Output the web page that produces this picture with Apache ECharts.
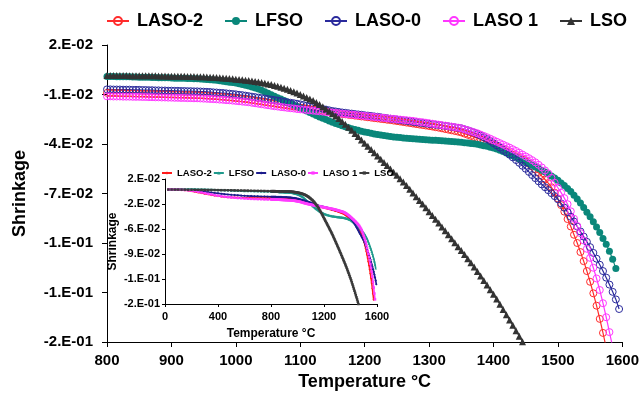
<!DOCTYPE html>
<html>
<head>
<meta charset="utf-8">
<script src="https://cdn.jsdelivr.net/npm/echarts@6/dist/echarts.min.js"></script>
<style>
html,body{margin:0;padding:0;background:#fff}
#chart{width:642px;height:396px}
</style>
</head>
<body>
<div id="chart"></div>
<script>
// temperature grid: main curves are read every 5 °C from 800 °C
var tStart = 800, tStep = 5;
// low part of the inset (25..775 °C, every 25 °C)
var lowStart = 25, lowStep = 25;

var names = ['LASO-2', 'LFSO', 'LASO-0', 'LASO 1', 'LSO'];

var laso2 = [
 -.0090,-.0090,-.0091,-.0091,-.0092,-.0092,-.0093,-.0093,-.0094,-.0094,
 -.0095,-.0095,-.0096,-.0096,-.0097,-.0097,-.0098,-.0098,-.0099,-.0099,
 -.0100,-.0100,-.0101,-.0101,-.0102,-.0102,-.0103,-.0103,-.0104,-.0105,
 -.0106,-.0107,-.0108,-.0110,-.0111,-.0113,-.0114,-.0116,-.0118,-.0120,
 -.0122,-.0124,-.0126,-.0128,-.0131,-.0134,-.0137,-.0140,-.0143,-.0146,
 -.0149,-.0152,-.0155,-.0158,-.0161,-.0164,-.0167,-.0170,-.0173,-.0176,
 -.0179,-.0182,-.0185,-.0188,-.0191,-.0194,-.0197,-.0200,-.0203,-.0206,
 -.0209,-.0212,-.0215,-.0218,-.0220,-.0223,-.0225,-.0228,-.0230,-.0233,
 -.0235,-.0238,-.0240,-.0243,-.0245,-.0248,-.0250,-.0253,-.0255,-.0258,
 -.0261,-.0264,-.0267,-.0270,-.0273,-.0276,-.0279,-.0282,-.0285,-.0288,
 -.0291,-.0294,-.0298,-.0301,-.0305,-.0309,-.0313,-.0317,-.0321,-.0325,
 -.0330,-.0337,-.0344,-.0351,-.0358,-.0365,-.0373,-.0381,-.0389,-.0397,
 -.0405,-.0415,-.0425,-.0435,-.0445,-.0455,-.0465,-.0475,-.0485,-.0495,
 -.0505,-.0520,-.0537,-.0555,-.0575,-.0595,-.0615,-.0637,-.0662,-.0695,
 -.0730,-.0770,-.0810,-.0855,-.0900,-.0950,-.1000,-.1055,-.1110,-.1170,
 -.1235,-.1305,-.1380,-.1460,-.1545,-.1635
];
var lfso = [
 .0009,.0009,.0009,.0008,.0008,.0008,.0007,.0007,.0006,.0006,
 .0005,.0005,.0004,.0004,.0003,.0003,.0002,.0002,.0001,.0001,
 .0000,-.0001,-.0001,-.0002,-.0002,-.0003,-.0003,-.0004,-.0005,-.0006,
 -.0007,-.0009,-.0010,-.0012,-.0014,-.0016,-.0019,-.0022,-.0025,-.0028,
 -.0031,-.0035,-.0039,-.0044,-.0049,-.0055,-.0061,-.0067,-.0074,-.0083,
 -.0092,-.0101,-.0110,-.0119,-.0128,-.0137,-.0146,-.0155,-.0164,-.0173,
 -.0182,-.0191,-.0200,-.0209,-.0218,-.0227,-.0236,-.0244,-.0252,-.0260,
 -.0268,-.0275,-.0282,-.0289,-.0295,-.0301,-.0307,-.0312,-.0317,-.0322,
 -.0327,-.0331,-.0335,-.0339,-.0343,-.0346,-.0349,-.0352,-.0355,-.0357,
 -.0359,-.0361,-.0363,-.0365,-.0367,-.0368,-.0370,-.0371,-.0373,-.0374,
 -.0376,-.0377,-.0378,-.0379,-.0381,-.0382,-.0383,-.0385,-.0386,-.0388,
 -.0390,-.0392,-.0394,-.0397,-.0399,-.0402,-.0406,-.0410,-.0414,-.0419,
 -.0424,-.0431,-.0438,-.0446,-.0454,-.0463,-.0471,-.0480,-.0489,-.0499,
 -.0509,-.0519,-.0529,-.0539,-.0549,-.0559,-.0570,-.0582,-.0594,-.0606,
 -.0620,-.0636,-.0652,-.0669,-.0688,-.0710,-.0733,-.0758,-.0785,-.0813,
 -.0841,-.0871,-.0903,-.0937,-.0972,-.1008,-.1050,-.1098,-.1155
];
var laso0 = [
 -.0069,-.0069,-.0070,-.0070,-.0070,-.0071,-.0071,-.0071,-.0072,-.0072,
 -.0072,-.0073,-.0073,-.0074,-.0074,-.0075,-.0075,-.0076,-.0076,-.0077,
 -.0077,-.0078,-.0078,-.0079,-.0079,-.0080,-.0080,-.0081,-.0081,-.0082,
 -.0083,-.0084,-.0085,-.0087,-.0088,-.0090,-.0091,-.0093,-.0095,-.0097,
 -.0099,-.0102,-.0104,-.0107,-.0110,-.0113,-.0116,-.0119,-.0122,-.0125,
 -.0128,-.0131,-.0134,-.0137,-.0140,-.0144,-.0147,-.0150,-.0153,-.0156,
 -.0160,-.0164,-.0168,-.0172,-.0176,-.0180,-.0184,-.0188,-.0192,-.0196,
 -.0200,-.0203,-.0206,-.0209,-.0211,-.0214,-.0216,-.0219,-.0221,-.0223,
 -.0226,-.0228,-.0230,-.0233,-.0235,-.0238,-.0241,-.0244,-.0247,-.0249,
 -.0252,-.0255,-.0258,-.0260,-.0263,-.0266,-.0268,-.0271,-.0273,-.0276,
 -.0278,-.0281,-.0283,-.0285,-.0288,-.0290,-.0293,-.0296,-.0299,-.0302,
 -.0305,-.0311,-.0317,-.0324,-.0331,-.0340,-.0349,-.0359,-.0370,-.0382,
 -.0395,-.0408,-.0422,-.0436,-.0450,-.0465,-.0481,-.0497,-.0514,-.0532,
 -.0550,-.0569,-.0588,-.0607,-.0626,-.0645,-.0662,-.0680,-.0698,-.0716,
 -.0735,-.0760,-.0786,-.0813,-.0841,-.0870,-.0900,-.0930,-.0961,-.0993,
 -.1025,-.1060,-.1095,-.1132,-.1170,-.1210,-.1252,-.1296,-.1342,-.1400
];
var laso1 = [
 -.0111,-.0111,-.0112,-.0112,-.0112,-.0113,-.0113,-.0113,-.0114,-.0114,
 -.0114,-.0115,-.0115,-.0116,-.0116,-.0117,-.0117,-.0118,-.0118,-.0119,
 -.0119,-.0120,-.0120,-.0121,-.0121,-.0122,-.0122,-.0123,-.0123,-.0124,
 -.0125,-.0126,-.0127,-.0128,-.0129,-.0131,-.0132,-.0134,-.0135,-.0137,
 -.0139,-.0141,-.0143,-.0145,-.0147,-.0150,-.0153,-.0156,-.0159,-.0162,
 -.0165,-.0168,-.0171,-.0173,-.0176,-.0178,-.0181,-.0183,-.0185,-.0188,
 -.0190,-.0192,-.0194,-.0196,-.0198,-.0200,-.0202,-.0204,-.0206,-.0208,
 -.0210,-.0212,-.0214,-.0216,-.0218,-.0220,-.0222,-.0224,-.0226,-.0228,
 -.0230,-.0232,-.0234,-.0236,-.0238,-.0240,-.0242,-.0244,-.0246,-.0248,
 -.0250,-.0252,-.0254,-.0256,-.0258,-.0260,-.0263,-.0266,-.0268,-.0271,
 -.0274,-.0277,-.0280,-.0283,-.0286,-.0289,-.0292,-.0295,-.0298,-.0301,
 -.0305,-.0311,-.0317,-.0323,-.0329,-.0335,-.0343,-.0351,-.0359,-.0368,
 -.0377,-.0386,-.0395,-.0404,-.0413,-.0422,-.0432,-.0442,-.0453,-.0464,
 -.0475,-.0486,-.0498,-.0511,-.0526,-.0542,-.0560,-.0578,-.0605,-.0635,
 -.0665,-.0695,-.0728,-.0765,-.0808,-.0853,-.0897,-.0940,-.0985,-.1035,
 -.1090,-.1150,-.1215,-.1285,-.1365,-.1450,-.1540,-.1630
];
var lso = [
 .0015,.0015,.0015,.0015,.0015,.0015,.0015,.0014,.0014,.0014,
 .0014,.0014,.0013,.0013,.0013,.0013,.0012,.0012,.0012,.0011,
 .0011,.0011,.0010,.0010,.0010,.0009,.0009,.0009,.0008,.0008,
 .0007,.0006,.0005,.0004,.0003,.0002,.0000,-.0001,-.0003,-.0005,
 -.0007,-.0009,-.0011,-.0013,-.0015,-.0018,-.0021,-.0024,-.0028,-.0032,
 -.0036,-.0040,-.0045,-.0050,-.0056,-.0062,-.0068,-.0075,-.0083,-.0091,
 -.0100,-.0109,-.0118,-.0127,-.0137,-.0149,-.0161,-.0174,-.0188,-.0202,
 -.0216,-.0231,-.0246,-.0263,-.0281,-.0299,-.0317,-.0336,-.0355,-.0375,
 -.0395,-.0414,-.0434,-.0453,-.0473,-.0492,-.0512,-.0531,-.0551,-.0571,
 -.0590,-.0610,-.0630,-.0652,-.0674,-.0697,-.0719,-.0742,-.0764,-.0787,
 -.0810,-.0833,-.0856,-.0879,-.0903,-.0926,-.0950,-.0974,-.0998,-.1022,
 -.1046,-.1070,-.1095,-.1120,-.1146,-.1173,-.1200,-.1227,-.1255,-.1283,
 -.1311,-.1340,-.1371,-.1403,-.1435,-.1467,-.1499,-.1532,-.1565,-.1598,
 -.1631,-.1665,-.1700,-.1735
];

// inset only: 25..775 °C
var laso2Low = [.0040,.0040,.0039,.0037,.0034,.0030,.0024,.0016,.0007,-.0003,-.0013,-.0023,-.0033,-.0042,-.0051,-.0059,
 -.0066,-.0072,-.0076,-.0079,-.0081,-.0083,-.0084,-.0085,-.0086,-.0087,-.0088,-.0088,-.0089,-.0089,-.0090];
var lfsoLow = [.0040,.0041,.0042,.0043,.0044,.0045,.0046,.0046,.0046,.0045,.0044,.0042,.0040,.0038,.0036,.0034,
 .0032,.0030,.0028,.0026,.0024,.0022,.0020,.0019,.0017,.0016,.0014,.0013,.0012,.0011,.0010];
var laso0Low = [.0040,.0040,.0040,.0039,.0038,.0036,.0033,.0029,.0024,.0018,.0012,.0006,.0000,-.0006,-.0012,-.0018,
 -.0024,-.0030,-.0035,-.0040,-.0044,-.0048,-.0052,-.0055,-.0058,-.0060,-.0062,-.0064,-.0066,-.0067,-.0068];
var laso1Low = [.0040,.0040,.0039,.0038,.0036,.0033,.0028,.0022,.0014,.0005,-.0005,-.0015,-.0025,-.0035,-.0045,-.0054,
 -.0062,-.0069,-.0075,-.0080,-.0085,-.0089,-.0093,-.0096,-.0099,-.0102,-.0104,-.0106,-.0108,-.0109,-.0110];
var lsoLow = [.0040,.0040,.0039,.0039,.0038,.0038,.0037,.0037,.0036,.0035,.0035,.0034,.0033,.0033,.0032,.0031,
 .0030,.0030,.0029,.0028,.0027,.0026,.0025,.0024,.0023,.0022,.0021,.0020,.0019,.0018,.0016];

var mainYLabels = ['-2.E-01', '-1.E-01', '-1.E-01', '-7.E-02', '-4.E-02', '-1.E-02', '2.E-02'];
var insetYLabels = ['-2.E-01', '-1.E-01', '-9.E-02', '-6.E-02', '-2.E-02', '2.E-02'];

var mainY = { min: -0.16, max: 0.02, step: 0.03 };
var insetY = { min: -0.17, max: 0.02, step: 0.038 };

function pairs(values, start, step) {
  return values.map(function (v, i) { return [start + i * step, v]; });
}
function full(low, high) {
  return pairs(low, lowStart, lowStep).concat(pairs(high, tStart, tStep));
}

var FONT = "'Liberation Sans', Arial, sans-serif";
var mainValues = [laso2, lfso, laso0, laso1, lso];
var lowValues = [laso2Low, lfsoLow, laso0Low, laso1Low, lsoLow];
var colors = ['#ff2b2b', '#0a877a', '#2a2a9c', '#ff36ff', '#333333'];
var insetColors = ['#ff1a1a', '#1f9a8c', '#1c1c8c', '#ff3cff', '#3a3a3a'];
var mainSymbols = [
  { symbol: 'circle', size: 7, fill: 'rgba(0,0,0,0)' },
  { symbol: 'circle', size: 7, fill: null },
  { symbol: 'circle', size: 7, fill: 'rgba(0,0,0,0)' },
  { symbol: 'circle', size: 7, fill: 'rgba(0,0,0,0)' },
  { symbol: 'triangle', size: 7, fill: null }
];
var insetSymbols = ['diamond', 'triangle', 'diamond', 'rect', 'rect'];

var series = [];
names.forEach(function (n, i) {
  var s = mainSymbols[i];
  series.push({
    name: n,
    type: 'line',
    xAxisIndex: 0,
    yAxisIndex: 0,
    data: pairs(mainValues[i], tStart, tStep),
    symbol: s.symbol,
    symbolSize: s.size,
    showAllSymbol: true,
    itemStyle: s.fill ? { color: s.fill, borderColor: colors[i], borderWidth: 1 } : { color: colors[i] },
    lineStyle: { color: colors[i], width: 1.2 },
    clip: true
  });
});
names.forEach(function (n, i) {
  series.push({
    name: n + ' ',
    type: 'line',
    xAxisIndex: 1,
    yAxisIndex: 1,
    data: full(lowValues[i], mainValues[i]),
    symbol: insetSymbols[i],
    symbolSize: 2.5,
    showAllSymbol: true,
    itemStyle: { color: insetColors[i] },
    lineStyle: { color: insetColors[i], width: 1.6 },
    clip: true
  });
});

var chart = echarts.init(document.getElementById('chart'), null, { renderer: 'canvas' });

chart.setOption({
  animation: false,
  backgroundColor: '#fff',
  textStyle: { fontFamily: FONT },
  legend: [{
    data: names,
    left: 101,
    top: 7,
    itemWidth: 22,
    itemHeight: 10,
    itemGap: 21,
    selectedMode: false,
    textStyle: { fontSize: 18, fontWeight: 'bold', color: '#000', fontFamily: FONT, padding: [0, 0, 0, 3] }
  }, {
    data: names.map(function (n) { return n + ' '; }),
    formatter: function (n) { return n.replace(/\s+$/, ''); },
    left: 156,
    top: 163,
    itemWidth: 10,
    itemHeight: 4,
    itemGap: 1,
    selectedMode: false,
    textStyle: { fontSize: 9.5, fontWeight: 'bold', color: '#000', fontFamily: FONT }
  }],
  grid: [
    { left: 107, right: 19, top: 45, bottom: 50 },
    { left: 165, right: 265, top: 179, bottom: 92 }
  ],
  xAxis: [{
    gridIndex: 0,
    type: 'value',
    min: 800, max: 1600, interval: 100,
    name: 'Temperature °C',
    nameLocation: 'middle',
    nameGap: 31,
    nameTextStyle: { fontSize: 18, fontWeight: 'bold', color: '#000', fontFamily: FONT },
    axisLine: { show: true, onZero: false, lineStyle: { color: '#000', width: 1 } },
    axisTick: { show: true, length: 5, lineStyle: { color: '#000' } },
    axisLabel: {
      fontSize: 15, fontWeight: 'bold', color: '#000', margin: 11, fontFamily: FONT,
      formatter: function (v) { return String(v); }
    },
    splitLine: { show: false }
  }, {
    gridIndex: 1,
    type: 'value',
    min: 0, max: 1600, interval: 400,
    name: 'Temperature °C',
    nameLocation: 'middle',
    nameGap: 24,
    nameTextStyle: { fontSize: 12, fontWeight: 'bold', color: '#000', fontFamily: FONT },
    axisLine: { show: true, onZero: false, lineStyle: { color: '#000', width: 1 } },
    axisTick: { show: true, length: 3, lineStyle: { color: '#000' } },
    axisLabel: {
      fontSize: 11, fontWeight: 'bold', color: '#000', margin: 7, fontFamily: FONT,
      formatter: function (v) { return String(v); }
    },
    splitLine: { show: false }
  }],
  yAxis: [{
    gridIndex: 0,
    type: 'value',
    min: mainY.min, max: mainY.max, interval: mainY.step,
    name: 'Shrinkage',
    nameLocation: 'middle',
    nameGap: 78,
    nameTextStyle: { fontSize: 18, fontWeight: 'bold', color: '#000', fontFamily: FONT },
    axisLine: { show: true, lineStyle: { color: '#000', width: 1 } },
    axisTick: { show: true, length: 5, lineStyle: { color: '#000' } },
    axisLabel: {
      fontSize: 15, fontWeight: 'bold', color: '#000', margin: 14, fontFamily: FONT,
      formatter: function (v) { return mainYLabels[Math.round((v - mainY.min) / mainY.step)]; }
    },
    splitLine: { show: false }
  }, {
    gridIndex: 1,
    type: 'value',
    min: insetY.min, max: insetY.max, interval: insetY.step,
    name: 'Shrinkage',
    nameLocation: 'middle',
    nameGap: 46,
    nameTextStyle: { fontSize: 12, fontWeight: 'bold', color: '#000', fontFamily: FONT },
    axisLine: { show: true, lineStyle: { color: '#000', width: 1 } },
    axisTick: { show: true, length: 3, lineStyle: { color: '#000' } },
    axisLabel: {
      fontSize: 11, fontWeight: 'bold', color: '#000', margin: 5, fontFamily: FONT,
      formatter: function (v) { return insetYLabels[Math.round((v - insetY.min) / insetY.step)]; }
    },
    splitLine: { show: false }
  }],
  series: series
});
</script>
</body>
</html>
